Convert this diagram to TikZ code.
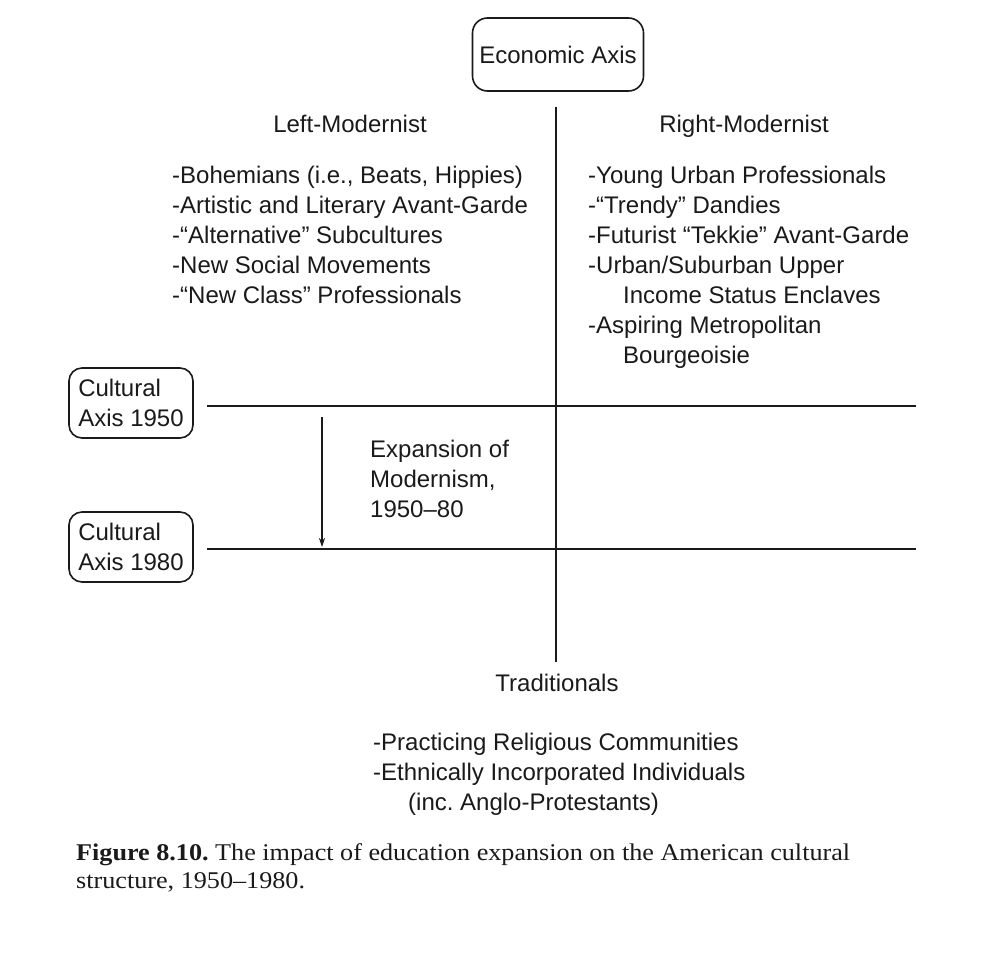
\documentclass[tikz,border=0pt]{standalone}
\usepackage{fontspec}
\setmainfont{Liberation Sans}
\newfontfamily\capserif[FakeStretch=1.09]{Liberation Serif}
\usetikzlibrary{arrows.meta,positioning}
\definecolor{inkBlack}{HTML}{1A1A1A}
\tikzset{
  % Axis name boxes (rounded, plain).
  cult/box/.style={
    draw=inkBlack, line width=1.6pt, rounded corners=13pt,
    inner sep=0pt, align=left, font=\fontsize{24}{30}\selectfont, text=inkBlack
  },
  % The two cultural axes and the economic axis.
  cult/axis/.style={draw=inkBlack, line width=2.6pt},
  % Shift of the cultural axis.
  cult/arrow/.style={
    -{Stealth[length=9pt,width=6pt]}, draw=inkBlack, line width=1.3pt
  },
  % Quadrant headings and list entries.
  cult/head/.style={font=\fontsize{24}{30}\selectfont, text=inkBlack, inner sep=0pt, anchor=base},
  cult/item/.style={font=\fontsize{24}{30}\selectfont, text=inkBlack, inner sep=0pt, anchor=base west},
  % Figure caption.
  cult/caption/.style={font=\capserif\fontsize{24}{28}\selectfont, text=inkBlack, inner sep=0pt, anchor=base west},
}

\begin{document}
\begin{tikzpicture}[x=1pt,y=-1pt]
  \useasboundingbox[fill=white] (0,0) rectangle (991,955);
  \node[cult/box, minimum width=171pt, minimum height=73pt, rounded corners=15pt] (econ) at (558,54.5) {Economic Axis};
  \node[cult/box, minimum width=124pt, minimum height=70pt] (c50) at (131,403) {Cultural\\Axis 1950};
  \node[cult/box, minimum width=124pt, minimum height=70pt] (c80) at (131,547) {Cultural\\Axis 1980};
  % axes
  \coordinate (vtop) at (556,107);
  \coordinate (vbot) at (556,662);
  \coordinate (h50w) at (207,406);
  \coordinate (h50e) at (916,406);
  \coordinate (h80w) at (207,549);
  \coordinate (h80e) at (916,549);
  \draw[cult/axis] (vtop) -- (vbot);
  \draw[cult/axis] (h50w) -- (h50e);
  \draw[cult/axis] (h80w) -- (h80e);
  \coordinate (shiftA) at (322,417);
  \coordinate (shiftB) at (322,547);
  \draw[cult/arrow] (shiftA) -- (shiftB);
  % quadrants
  \node[cult/head] (lm) at (350,133) {Left-Modernist};
  \node[cult/head] (rm) at (744,133) {Right-Modernist};
  \foreach \txt [count=\i] in {{-Bohemians (i.e., Beats, Hippies)}, -Artistic and Literary Avant-Garde,
      -“Alternative” Subcultures, -New Social Movements, -“New Class” Professionals}
    \node[cult/item] (left\i) at (172,153+30*\i) {\txt};
  \foreach \x/\txt [count=\i] in {588/-Young Urban Professionals, 588/-“Trendy” Dandies,
      588/-Futurist “Tekkie” Avant-Garde, 588/{-Urban/Suburban Upper}, 623/Income Status Enclaves,
      588/-Aspiring Metropolitan, 623/Bourgeoisie}
    \node[cult/item] (right\i) at (\x,153+30*\i) {\txt};
  \foreach \txt [count=\i] in {Expansion of, {Modernism,}, 1950–80}
    \node[cult/item] (exp\i) at (370,427+30*\i) {\txt};
  \node[cult/head] (trad) at (557,691) {Traditionals};
  \foreach \x/\txt [count=\i] in {373/-Practicing Religious Communities, 373/-Ethnically Incorporated Individuals,
      408/(inc.\ Anglo-Protestants)}
    \node[cult/item] (trad\i) at (\x,720+30*\i) {\txt};
  % caption
  \node[cult/caption] (cap1) at (76,860) {\textbf{Figure 8.10.}\ The impact of education expansion on the American cultural};
  \node[cult/caption] (cap2) at (76,888) {structure, 1950–1980.};
\end{tikzpicture}
\end{document}
